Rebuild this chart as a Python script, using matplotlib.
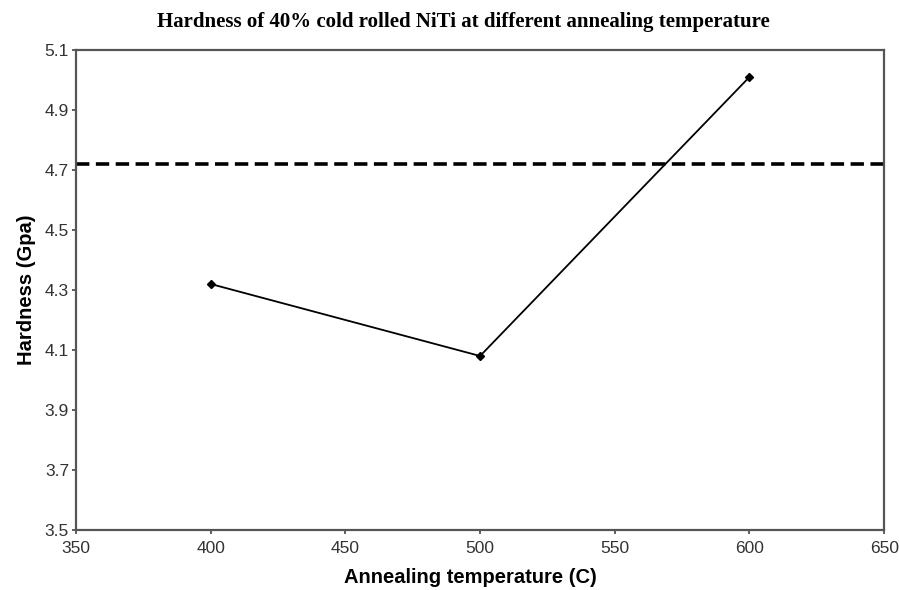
import matplotlib
matplotlib.use('Agg')
import matplotlib.pyplot as plt
import numpy as np

temps = [400, 500, 600]
hardness = [4.32, 4.08, 5.01]
ref_level = 4.72  # dashed reference (as-rolled hardness)

xticks = [350, 400, 450, 500, 550, 600, 650]
yticks = [3.5, 3.7, 3.9, 4.1, 4.3, 4.5, 4.7, 4.9, 5.1]

fig = plt.figure(figsize=(8.99, 5.90), dpi=100)
ax = fig.add_axes([0.0845, 0.1017, 0.899, 0.8136])

ax.plot(temps, hardness, color='black', lw=1.3, marker='D', markersize=4)
ax.axhline(ref_level, color='black', lw=2.6, linestyle=(0, (3.7, 1.8)))

ax.set_xlim(350, 650)
ax.set_ylim(3.5, 5.1)
ax.set_xticks(xticks)
ax.set_yticks(yticks)
ax.set_yticklabels(['%.1f' % v for v in yticks])

for lab in ax.get_xticklabels() + ax.get_yticklabels():
    lab.set_fontfamily('Liberation Sans')
    lab.set_fontsize(12.5)
    lab.set_color('#333333')
ax.tick_params(direction='out', length=3, width=1.2, color='#444444')
ax.tick_params(axis='x', pad=5)
ax.tick_params(axis='y', pad=2)

for sp in ax.spines.values():
    sp.set_color('#555555')
    sp.set_linewidth(1.6)

ax.set_xlabel('Annealing temperature (C)', fontfamily='Liberation Sans',
              fontweight='bold', fontsize=14.5)
ax.xaxis.set_label_coords(0.488, -0.08)
ax.set_ylabel('Hardness (Gpa)', fontfamily='Liberation Sans',
              fontweight='bold', fontsize=14.5, labelpad=6)
fig.text(0.515, 0.962, 'Hardness of 40% cold rolled NiTi at different annealing temperature',
         ha='center', va='center', fontfamily='Liberation Serif',
         fontweight='bold', fontsize=15)

fig.savefig('out.png', dpi=100)
